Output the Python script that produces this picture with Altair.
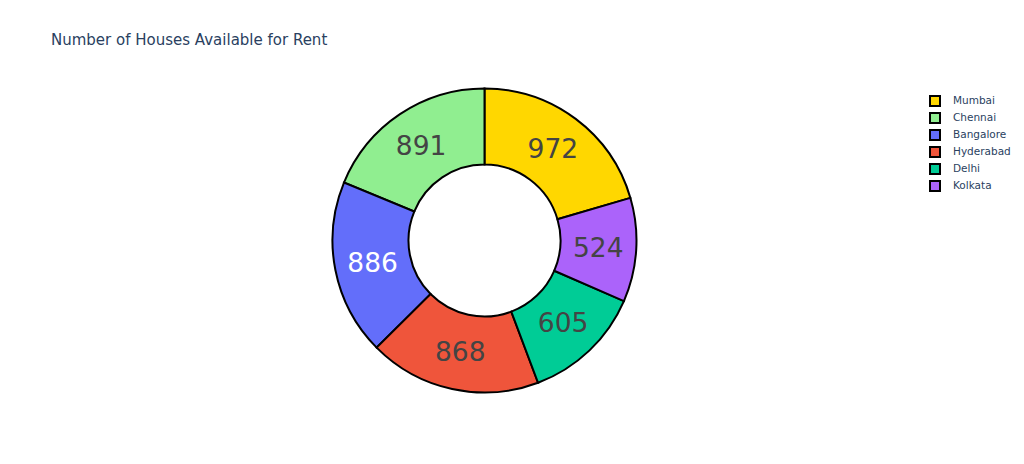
import altair as alt
import pandas as pd

cities = ["Mumbai", "Chennai", "Bangalore", "Hyderabad", "Delhi", "Kolkata"]
houses = [972, 891, 886, 868, 605, 524]
colors = ["#FFD700", "#90EE90", "#636EFA", "#EF553B", "#00CC96", "#AB63FA"]
clockwise = ["Mumbai", "Kolkata", "Delhi", "Hyderabad", "Bangalore", "Chennai"]
title_text = "Number of Houses Available for Rent"

df = pd.DataFrame({
    "city": cities,
    "houses": houses,
    "pos": [clockwise.index(c) for c in cities],
})

W, H = 1008, 448
CX, CY = 476.5, 232.5

base = alt.Chart(df).encode(
    theta=alt.Theta("houses:Q", stack=True),
    order=alt.Order("pos:Q"),
)

arcs = base.mark_arc(
    innerRadius=76, outerRadius=152, stroke="black", strokeWidth=2
).encode(
    x=alt.value(CX), y=alt.value(CY),
    color=alt.Color(
        "city:N",
        scale=alt.Scale(domain=cities, range=colors),
        sort=cities,
        legend=alt.Legend(
            title=None, orient="none", legendX=921, legendY=87,
            symbolType="square", symbolSize=100, symbolStrokeColor="black",
            symbolStrokeWidth=2, symbolOpacity=1,
            labelFont="DejaVu Sans", labelFontSize=10.5, labelColor="#2a3f5f",
            rowPadding=-1, labelOffset=12,
        ),
    ),
)

labels = base.mark_text(
    radius=114, fontSize=26.5, font="DejaVu Sans", baseline="middle", align="center", dy=1
).encode(
    x=alt.value(CX), y=alt.value(CY),
    text=alt.Text("houses:Q"),
    color=alt.condition("datum.city == 'Bangalore'", alt.value("white"), alt.value("#444444")),
)

title = alt.Chart(pd.DataFrame({"t": [title_text]})).mark_text(
    align="left", baseline="middle", fontSize=15, font="DejaVu Sans", color="#2a3f5f"
).encode(x=alt.value(43), y=alt.value(32), text="t:N")

chart = alt.layer(arcs, labels, title).properties(
    width=W, height=H, autosize=alt.AutoSizeParams(type="none"), padding=0
).configure_view(stroke=None).resolve_scale(color="independent")

chart.save("out.html", embed_options={"renderer": "svg", "actions": False})
